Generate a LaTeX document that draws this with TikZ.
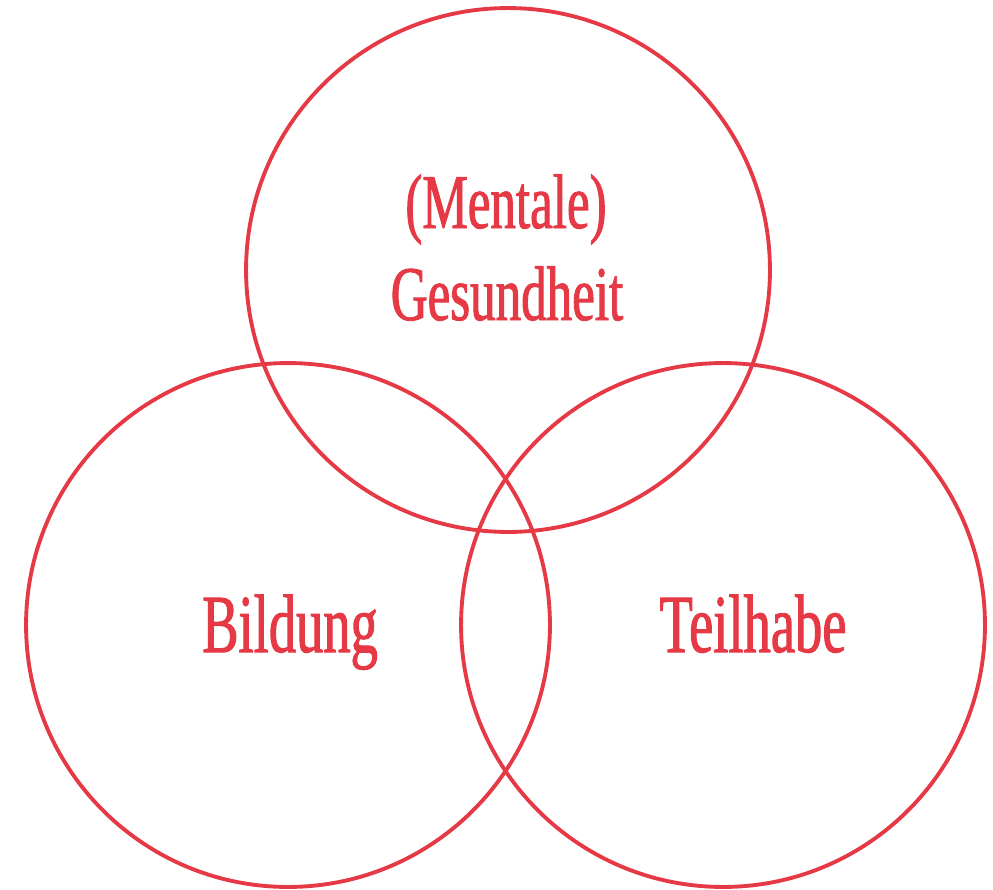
\documentclass[tikz,border=0pt]{standalone}
\usepackage{fontspec}
\setmainfont[FakeStretch=0.66,FakeBold=1.2]{Liberation Serif}
\definecolor{vennred}{RGB}{230,57,70}

\begin{document}
\begin{tikzpicture}[
    x=0.02cm, y=-0.02cm, % pixel grid, y going down
    setcircle/.style={draw=vennred, line width=2.2pt, circle, minimum size=10.48cm, inner sep=0pt},
    settext/.style={text=vennred, anchor=base, inner sep=0pt},
    bigtext/.style={settext, font=\fontsize{47}{52}\selectfont},
    toptext/.style={settext, font=\fontsize{44}{52}\selectfont}
]
\useasboundingbox (0,0) rectangle (993,889);
% Les trois cercles
\node[setcircle] (gesund) at (508,270) {};
\node[setcircle] (bildung) at (288,625) {};
\node[setcircle] (teilhabe) at (723,625) {};
% Les textes
\node[toptext] (mentaletxt) at (506,228) {(Mentale)};
\node[toptext] (gesundtxt) at (507,320) {Gesundheit};
\node[bigtext] (bildungtxt) at (290,652) {Bildung};
\node[bigtext] (teilhabetxt) at (753,652) {Teilhabe};
\end{tikzpicture}
\end{document}
